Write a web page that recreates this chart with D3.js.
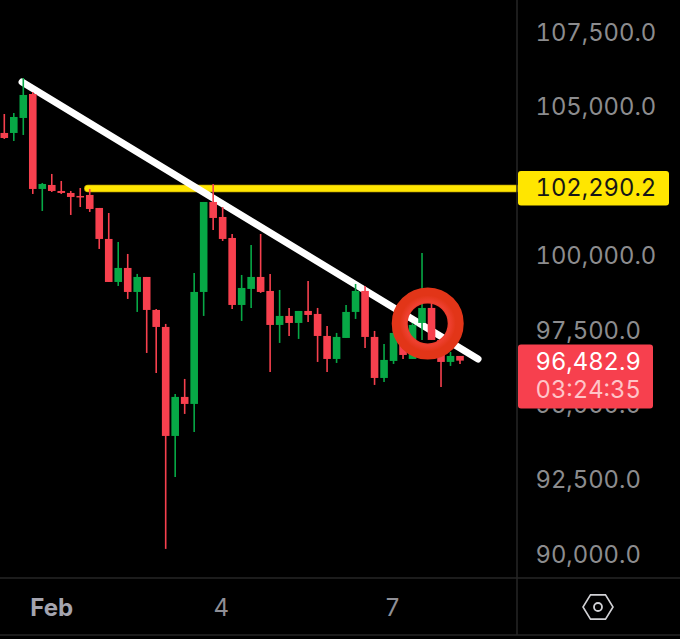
<!DOCTYPE html>
<html><head><meta charset="utf-8">
<script src="https://cdn.jsdelivr.net/npm/d3@7/dist/d3.min.js"></script>
<style>html,body{margin:0;padding:0;background:#000}svg{display:block}
text{font-variant-numeric:tabular-nums;font-feature-settings:"tnum" 1}</style>
</head><body><svg id="c" width="680" height="639"></svg>
<script>
const opens  = [104115,104115,104618,105422,102238,102372,102171,102104,102003,102037,101601,100562,99120,99590,98785,99288,98182,97612,93958,95266,95031,98785,101802,101299,100595,98349,98886,99288,98819,97679,97981,97746,98148,98048,97310,96539,97243,98115,98819,97277,95902,96472,97344,96539,97746,98249,97176,96439,96640];
const closes = [103947,104651,105389,102238,102405,102171,102104,101970,101970,101567,100562,99120,99590,98785,99288,98182,97612,93958,95266,95031,98785,101802,101266,100562,98349,98919,99288,98785,97679,97981,97746,98148,98014,97310,96539,97277,98115,98819,97277,95902,96506,97411,96673,97679,98249,97176,96439,96640,96483];
const highs  = [104752,104785,105958,105489,102439,102741,102506,102171,102271,102238,101601,101433,100461,100059,99389,99288,98215,97713,95366,95869,99422,101802,102405,101634,100729,99355,100361,100729,99389,98852,98249,98148,99154,98249,97645,97411,98349,99053,98986,97478,97042,97578,97700,97746,100092,98517,97176,96774,96640];
const lows   = [103914,103847,104048,102070,101500,102137,102070,101366,101634,101467,100227,99120,98986,98551,98115,96740,96070,90171,92584,94696,94092,97981,100863,100495,98215,97813,98249,98752,96104,97076,97310,97210,97780,96439,96104,96405,97243,97880,96908,95668,95768,96372,96539,96539,97176,97176,95601,96305,96372];

const yTickValues = [107500,105000,102500,100000,97500,95000,92500,90000];
const xTickIndex  = [5,23,41];
const xTickLabels = ["Feb","4","7"];
const trendIndex  = [1.87,49.9];
const trendPrice  = [105824,96539];
const levelIndex  = [8.8];
const levelPrice  = [102290.2];
const lastPrice   = [96482.9];
const countdown   = ["03:24:35"];
const circledIndex = [44.6];
const circledPrice = [97730];

const RED="#f7404e", GREEN="#07a846", FONT="Inter, 'Noto Sans', sans-serif";
const svg=d3.select("#c");
const x=d3.scaleLinear().domain([0,48]).range([4.3,460]);
const y=d3.scaleLinear().domain([90000,107500]).range([554,32]);
const fmt=d3.format(",.1f");
const axisX=517, axisY=578, bottomY=635, textX=535.5;

svg.append("rect").attr("width",680).attr("height",639).attr("fill","#000");

// level line
svg.append("line").attr("x1",x(levelIndex[0])).attr("x2",axisX)
  .attr("y1",y(levelPrice[0])+1).attr("y2",y(levelPrice[0])+1)
  .attr("stroke","#c9ad00").attr("stroke-width",7.5).attr("stroke-linecap","round");
svg.append("line").attr("x1",x(levelIndex[0])).attr("x2",axisX)
  .attr("y1",y(levelPrice[0])+1).attr("y2",y(levelPrice[0])+1)
  .attr("stroke","#ffe600").attr("stroke-width",6).attr("stroke-linecap","round");

// trend line
svg.append("line").attr("x1",x(trendIndex[0])).attr("y1",y(trendPrice[0]))
  .attr("x2",x(trendIndex[1])).attr("y2",y(trendPrice[1]))
  .attr("stroke","#fff").attr("stroke-width",7).attr("stroke-linecap","round");

// candles
const g=svg.append("g");
opens.forEach((o,i)=>{
  const c=closes[i], col=c>=o?GREEN:RED;
  g.append("line").attr("x1",x(i)).attr("x2",x(i)).attr("y1",y(highs[i])).attr("y2",y(lows[i]))
    .attr("stroke",col).attr("stroke-width",1.6);
  g.append("rect").attr("x",x(i)-3.8).attr("width",7.6)
    .attr("y",y(Math.max(o,c))).attr("height",Math.max(1.5,Math.abs(y(o)-y(c))))
    .attr("fill",col);
});

// ring
const grad=svg.append("defs").append("radialGradient").attr("id","rg");
grad.append("stop").attr("offset","55%").attr("stop-color","#e0301a");
grad.append("stop").attr("offset","78%").attr("stop-color","#ee4030");
grad.append("stop").attr("offset","100%").attr("stop-color","#e23518");
svg.append("circle").attr("cx",x(circledIndex[0])).attr("cy",y(circledPrice[0])).attr("r",28)
  .attr("fill","none").attr("stroke","url(#rg)").attr("stroke-width",16);

// frame
svg.append("g").attr("stroke","#262626").attr("stroke-width",1.5).selectAll("line")
  .data([[axisX,0,axisX,bottomY],[0,axisY,680,axisY],[0,bottomY,680,bottomY]]).join("line")
  .attr("x1",d=>d[0]).attr("y1",d=>d[1]).attr("x2",d=>d[2]).attr("y2",d=>d[3]);

// y ticks
const FS=23.8;
svg.append("g").selectAll("text").data(yTickValues).join("text")
  .attr("x",textX).attr("y",d=>y(d)+8.5).attr("text-anchor","start")
  .attr("font-family",FONT).attr("font-size",FS).attr("fill","#8c8c8e")
  .text(fmt);

// x ticks
svg.append("g").selectAll("text").data(xTickLabels).join("text")
  .attr("x",(d,i)=>x(xTickIndex[i])-(i==1?1.5:i==2?1:0)).attr("y",616).attr("text-anchor","middle")
  .attr("font-family",FONT).attr("font-size",24).attr("font-weight",(d,i)=>i==0?700:400)
  .attr("fill",(d,i)=>i==0?"#a4a4ae":"#8f8f96").text(d=>d);

// settings icon
const hex=d3.range(6).map(k=>{const a=k*Math.PI/3;return [598+15*Math.cos(a),607+14*Math.sin(a)];});
svg.append("path").attr("d",d3.line().curve(d3.curveLinearClosed)(hex))
  .attr("fill","none").attr("stroke","#d2d2d6").attr("stroke-width",1.6);
svg.append("circle").attr("cx",598).attr("cy",607).attr("r",4).attr("fill","none")
  .attr("stroke","#d2d2d6").attr("stroke-width",1.8);

// level label
const ly=y(levelPrice[0]);
svg.append("rect").attr("x",518).attr("y",ly-16.5).attr("width",151).attr("height",34.5).attr("rx",3).attr("fill","#ffe600");
svg.append("text").attr("x",textX).attr("y",ly+9).attr("text-anchor","start")
  .attr("font-family",FONT).attr("font-size",FS).attr("fill","#161616").text(fmt(levelPrice[0]));

// last price label
const py=y(lastPrice[0]);
svg.append("rect").attr("x",518).attr("y",py-16).attr("width",135).attr("height",64).attr("rx",3).attr("fill",RED);
svg.append("text").attr("x",textX).attr("y",py+9).attr("text-anchor","start")
  .attr("font-family",FONT).attr("font-size",FS).attr("fill","#fff").text(fmt(lastPrice[0]));
svg.append("text").attr("x",textX).attr("y",py+37).attr("text-anchor","start")
  .attr("font-family",FONT).attr("font-size",FS).attr("fill","#ffc4c8").text(countdown[0]);
</script></body></html>
